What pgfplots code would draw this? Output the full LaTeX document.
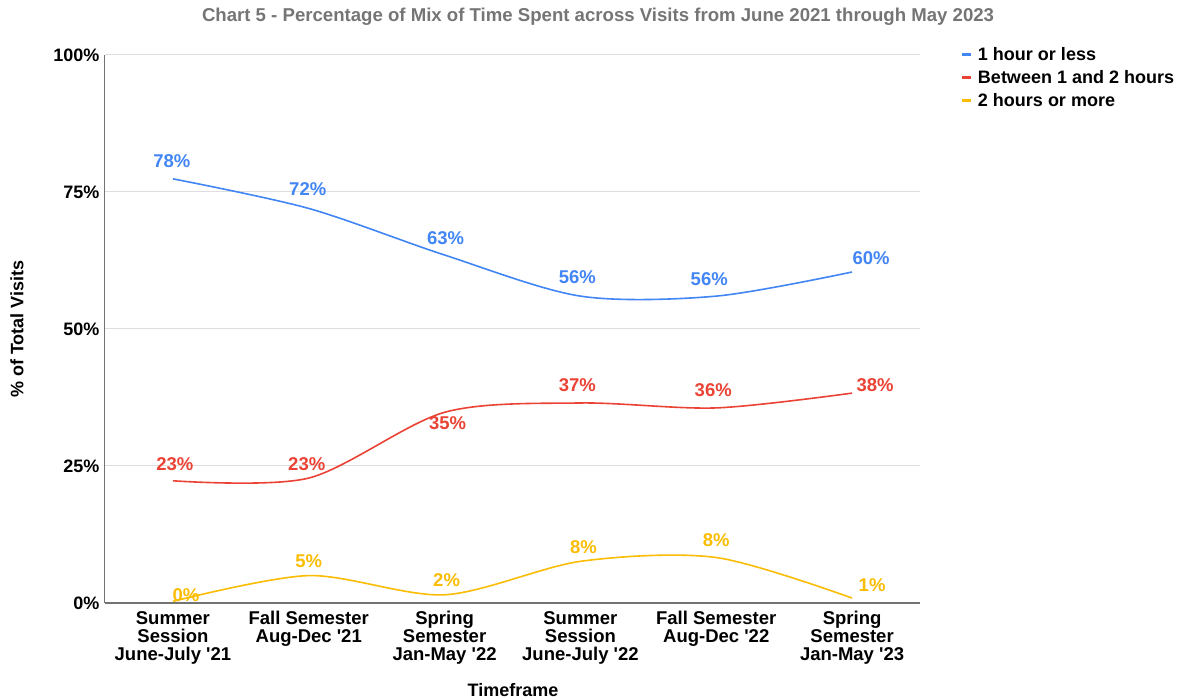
\documentclass[border=0pt]{standalone}
\usepackage{pgfplots}
\pgfplotsset{compat=1.18}
\usepackage{fontspec}
\setmainfont{Liberation Sans}
\definecolor{cblue}{HTML}{4285F4}
\definecolor{cred}{HTML}{EA4335}
\definecolor{cyellow}{HTML}{FBBC04}
\definecolor{tgray}{HTML}{757575}
\newcommand{\q}{\textquotesingle}
\begin{document}
\begin{tikzpicture}[x=1pt,y=1pt]
\useasboundingbox (-105,-95) rectangle (1083,603);
\begin{axis}[
  anchor=south west,
  width=815pt, height=548pt, scale only axis,
  xmin=-0.5, xmax=5.5, ymin=0, ymax=100,
  axis x line=bottom, axis y line=left,
  axis line style={-},
  x axis line style={draw=black!55, line width=1.2pt},
  y axis line style={draw=black!55, line width=1pt},
  major tick length=0pt,
  xtick={0,1,2,3,4,5},
  xticklabels={{Summer\\Session\\June-July \q21},{Fall Semester\\Aug-Dec \q21},{Spring\\Semester\\Jan-May \q22},{Summer\\Session\\June-July \q22},{Fall Semester\\Aug-Dec \q22},{Spring\\Semester\\Jan-May \q23}},
  xticklabel style={align=center, font=\bfseries\fontsize{18.5}{18}\selectfont, anchor=north, yshift=-5pt},
  ytick={0,25,50,75,100},
  yticklabel={\pgfmathprintnumber{\tick}\%},
  yticklabel style={font=\bfseries\fontsize{18}{20}\selectfont, xshift=-2pt},
  /pgf/number format/assume math mode=true,
  ymajorgrids, grid style={draw=black!13, line width=1pt},
  ylabel={\% of Total Visits},
  ylabel style={at={(axis description cs:-0.108,0.5)}, anchor=center, rotate=0, font=\bfseries\fontsize{18}{20}\selectfont},
  xlabel={Timeframe},
  xlabel style={at={(axis description cs:0.5006,-0.159)}, anchor=center, font=\bfseries\fontsize{18}{20}\selectfont},
  title={Chart 5 - Percentage of Mix of Time Spent across Visits from June 2021 through May 2023},
  title style={at={(axis description cs:0.605,1.058)}, anchor=center, font=\bfseries\fontsize{18.6}{20}\selectfont, text=tgray},
  legend style={at={(axis description cs:1.046,1.022)}, anchor=north west, draw=none, fill=none,
    font=\bfseries\fontsize{18}{20}\selectfont, row sep=4.5pt, cells={anchor=west}},
  legend image code/.code={\draw[#1, line width=3pt] (0pt,0pt) -- (9pt,0pt); \path (13pt,0pt);},
  point meta=explicit,
  nodes near coords={\pgfmathprintnumber{\pgfplotspointmeta}\%},
  visualization depends on={value \thisrow{dx}\as\mydx},
  visualization depends on={value \thisrow{dy}\as\mydy},
  every node near coord/.append style={anchor=center, xshift=\mydx pt, yshift=\mydy pt, font=\bfseries\fontsize{18.5}{20}\selectfont, inner sep=0pt},
]
\addplot[cblue, line width=1.6pt, smooth, tension=0.5, mark=none,
  every node near coord/.append style={text=cblue}] table[x=x,y=y,meta=l] {
x y l dx dy
0 77.4 78 -1 18
1 72.0 72 -1 19
2 63.5 63 1 17
3 56.0 56 -3 19
4 56.0 56 -7 17
5 60.4 60 19 14
};
\addlegendentry{1 hour or less}
\addplot[cred, line width=1.6pt, smooth, tension=0.5, mark=none,
  every node near coord/.append style={text=cred}] table[x=x,y=y,meta=l] {
x y l dx dy
0 22.3 23 2 17
1 22.8 23 -2 14
2 34.8 35 3 -11
3 36.5 37 -3 18
4 35.6 36 -3 18
5 38.3 38 23 8
};
\addlegendentry{Between 1 and 2 hours}
\addplot[cyellow, line width=1.6pt, smooth, tension=0.5, mark=none,
  every node near coord/.append style={text=cyellow}] table[x=x,y=y,meta=l] {
x y l dx dy
0 0.3 0 13 6
1 5.0 5 0 14
2 1.5 2 2 15
3 7.6 8 3 14
4 8.3 8 0 17
5 0.9 1 20 13
};
\addlegendentry{2 hours or more}
\end{axis}
\end{tikzpicture}
\end{document}
